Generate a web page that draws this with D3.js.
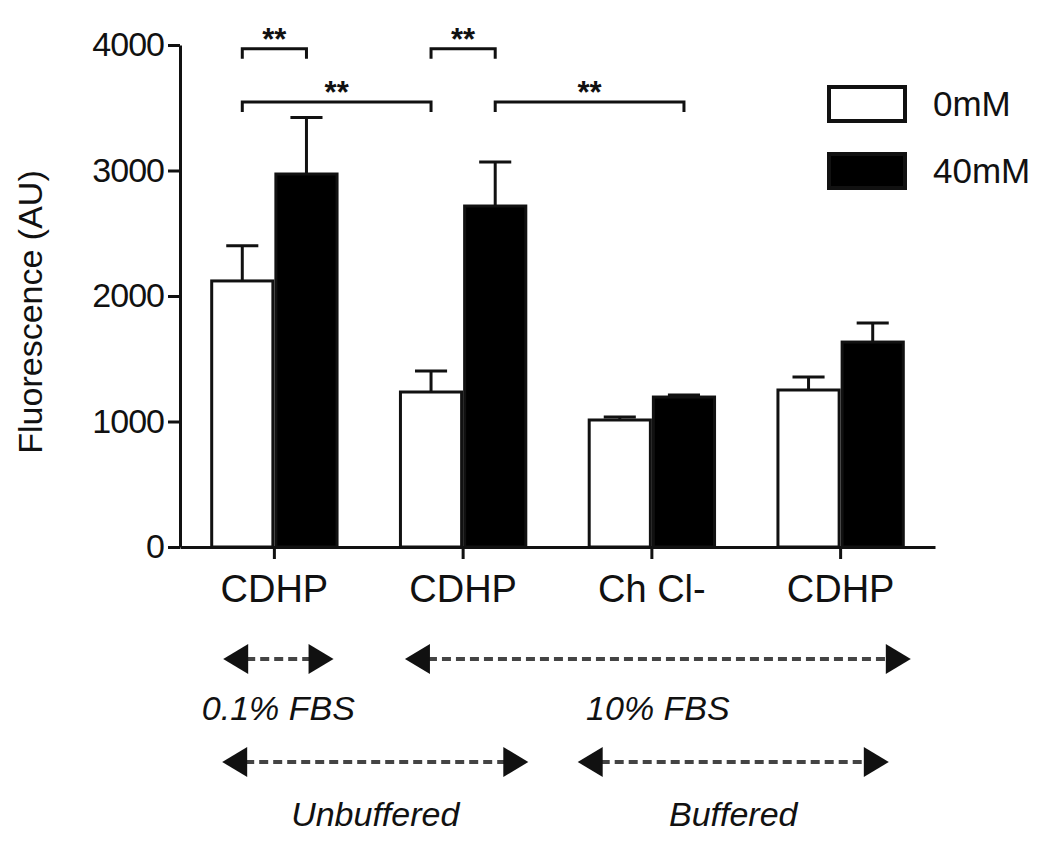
<!DOCTYPE html>
<html>
<head>
<meta charset="utf-8">
<script src="https://cdn.jsdelivr.net/npm/d3@7"></script>
<style>
  body { margin: 0; background: #fff; }
  text { font-family: "Liberation Sans", Arial, Helvetica, sans-serif; fill: #111; }
  .axis path, .axis line { stroke: #111; stroke-width: 3; }
</style>
</head>
<body>
<div id="chart"></div>
<script>
// data
var groups = [0, 1, 2, 3];
var groupLabels = ["CDHP", "CDHP", "Ch Cl-", "CDHP"];
var series = ["0mM", "40mM"];
var seriesFill = ["#fff", "#000"];
var mean0mM = [2120, 1235, 1012, 1251];
var err0mM = [280, 167, 24, 104];
var mean40mM = [2972, 2717, 1195, 1633];
var err40mM = [450, 350, 16, 152];
var yTicks = [0, 1000, 2000, 3000, 4000];
var yLabel = "Fluorescence (AU)";

// significance brackets: [group, series] at each end, bracket height in AU
var sigFrom = [[0, 0], [1, 0], [0, 0], [1, 1]];
var sigTo = [[0, 1], [1, 1], [1, 0], [2, 1]];
var sigLevel = [3970, 3970, 3545, 3545];
var sigText = ["**", "**", "**", "**"];

// condition arrows under the axis: first and last group covered
var condLabels = ["0.1% FBS", "10% FBS", "Unbuffered", "Buffered"];
var condFrom = [0, 1, 0, 2];
var condTo = [0, 3, 1, 3];
var condRow = [0, 0, 1, 1];

var width = 1050, height = 851;
var margin = {top: 45, left: 180, right: 115, bottom: 304};

var svg = d3.select("#chart").append("svg")
  .attr("width", width).attr("height", height);

var x = d3.scaleBand().domain(groups)
  .range([margin.left, width - margin.right])
  .paddingInner(0.32).paddingOuter(0.16);
var xs = d3.scaleBand().domain(series).range([0, x.bandwidth()]);
var y = d3.scaleLinear().domain([0, 4000]).range([height - margin.bottom, margin.top]);

var means = [mean0mM, mean40mM], errs = [err0mM, err40mM];
var bars = [];
series.forEach(function(s, si) {
  groups.forEach(function(g, gi) {
    bars.push({g: g, s: s, si: si, v: means[si][gi], e: errs[si][gi]});
  });
});
function barCenter(gi, si) { return x(groups[gi]) + xs(series[si]) + xs.bandwidth() / 2; }

// error bars (upper only), drawn before bars
var eb = svg.append("g").attr("stroke", "#111").attr("stroke-width", 3);
bars.forEach(function(d) {
  var cx = x(d.g) + xs(d.s) + xs.bandwidth() / 2;
  eb.append("line").attr("x1", cx).attr("x2", cx).attr("y1", y(d.v)).attr("y2", y(d.v + d.e));
  eb.append("line").attr("x1", cx - xs.bandwidth() / 4).attr("x2", cx + xs.bandwidth() / 4)
    .attr("y1", y(d.v + d.e)).attr("y2", y(d.v + d.e));
});

svg.append("g").selectAll("rect").data(bars).enter().append("rect")
  .attr("x", function(d) { return x(d.g) + xs(d.s) + 1.5; })
  .attr("width", xs.bandwidth() - 3)
  .attr("y", function(d) { return y(d.v); })
  .attr("height", function(d) { return y(0) - y(d.v); })
  .attr("fill", function(d) { return seriesFill[d.si]; })
  .attr("stroke", "#111").attr("stroke-width", 3);

// axes
var yAxis = d3.axisLeft(y).tickValues(yTicks).tickFormat(d3.format("d"))
  .tickSize(12).tickSizeOuter(0).tickPadding(4);
svg.append("g").attr("class", "axis").attr("transform", "translate(" + margin.left + ",0)")
  .call(yAxis)
  .selectAll("text").style("font-size", "34px").style("letter-spacing", "-1px");

var xAxis = d3.axisBottom(x).tickSize(12).tickSizeOuter(0).tickPadding(16)
  .tickFormat(function(d, i) { return groupLabels[i]; });
svg.append("g").attr("class", "axis").attr("transform", "translate(0," + y(0) + ")")
  .call(xAxis)
  .selectAll("text").style("font-size", "38px");

svg.append("text")
  .attr("transform", "translate(42,312) rotate(-90)")
  .attr("text-anchor", "middle").style("font-size", "34px")
  .text(yLabel);

// significance brackets
var sg = svg.append("g");
sigLevel.forEach(function(lv, i) {
  var x1 = barCenter(sigFrom[i][0], sigFrom[i][1]);
  var x2 = barCenter(sigTo[i][0], sigTo[i][1]);
  var yy = y(lv);
  sg.append("path")
    .attr("d", "M" + x1 + "," + (yy + 10) + "V" + yy + "H" + x2 + "V" + (yy + 10))
    .attr("fill", "none").attr("stroke", "#111").attr("stroke-width", 3);
  sg.append("text").attr("x", (x1 + x2) / 2).attr("y", yy + 1)
    .attr("text-anchor", "middle").style("font-size", "31px").style("font-weight", "bold")
    .text(sigText[i]);
});

// legend
var lg = svg.append("g").attr("transform", "translate(827,85)");
series.forEach(function(s, i) {
  lg.append("rect").attr("x", 2).attr("y", i * 67 + 2).attr("width", 76).attr("height", 34)
    .attr("fill", seriesFill[i]).attr("stroke", "#111").attr("stroke-width", 4);
  lg.append("text").attr("x", 106).attr("y", i * 67 + 31).style("font-size", "35px").text(s);
});

// condition arrows
var condPad = [[13, -5], [6, 6], [12, 1], [-10, -16]];
var rowY = [659, 762], rowText = [720, 826];
var ag = svg.append("g");
condLabels.forEach(function(lab, i) {
  var xa = x(groups[condFrom[i]]) + condPad[i][0];
  var xb = x(groups[condTo[i]]) + x.bandwidth() + condPad[i][1];
  var yy = rowY[condRow[i]];
  var hl = 25, hh = 15;
  ag.append("line").attr("x1", xa + hl - 2).attr("x2", xb - hl + 2).attr("y1", yy).attr("y2", yy)
    .attr("stroke", "#444").attr("stroke-width", 4).attr("stroke-dasharray", "9,5");
  ag.append("path").attr("d", "M" + xa + "," + yy + "L" + (xa + hl) + "," + (yy - hh) + "L" + (xa + hl) + "," + (yy + hh) + "Z")
    .attr("fill", "#111");
  ag.append("path").attr("d", "M" + xb + "," + yy + "L" + (xb - hl) + "," + (yy - hh) + "L" + (xb - hl) + "," + (yy + hh) + "Z")
    .attr("fill", "#111");
  ag.append("text").attr("x", (xa + xb) / 2).attr("y", rowText[condRow[i]])
    .attr("text-anchor", "middle").style("font-size", "34px").style("font-style", "italic")
    .text(lab);
});
</script>
</body>
</html>
